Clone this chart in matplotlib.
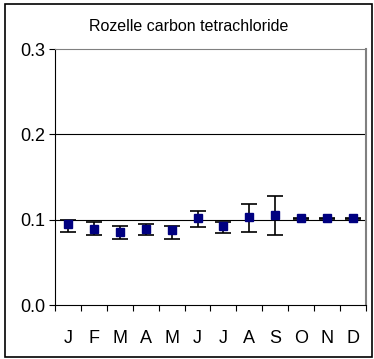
import matplotlib.pyplot as plt
import matplotlib.patches as patches
import numpy as np

plt.rcParams['font.family'] = ['Liberation Sans', 'DejaVu Sans']

months = ['J', 'F', 'M', 'A', 'M', 'J', 'J', 'A', 'S', 'O', 'N', 'D']
means = [0.0947, 0.0896, 0.0850, 0.0896, 0.0877, 0.1016, 0.0923, 0.1035, 0.1058, 0.1016, 0.1016, 0.1016]
lows = [0.0860, 0.0815, 0.0768, 0.0815, 0.0768, 0.0912, 0.0838, 0.0860, 0.0820, 0.1005, 0.1005, 0.1005]
highs = [0.1000, 0.0973, 0.0930, 0.0954, 0.0930, 0.1097, 0.0977, 0.1185, 0.1278, 0.1025, 0.1025, 0.1025]

means = np.array(means)
yerr = np.array([means - np.array(lows), np.array(highs) - means])
x = np.arange(len(months))

fig = plt.figure(figsize=(3.74, 3.59), dpi=100)
ax = fig.add_axes([0.147, 0.1504, 0.8316, 0.7131])

# grid lines
for g in [0.1, 0.2]:
    ax.axhline(g, color='black', lw=0.8, zorder=1)

ax.errorbar(x, means, yerr=yerr, fmt='none', ecolor='black', elinewidth=1.2,
            capsize=5.5, capthick=1.2, zorder=2)
ax.plot(x, means, 's', color='#000080', markersize=5.8, zorder=3)

ax.set_xlim(-0.5, 11.5)
ax.set_ylim(0, 0.3)
ax.set_yticks([0.0, 0.1, 0.2, 0.3])
ax.set_yticklabels(['0.0', '0.1', '0.2', '0.3'], fontsize=13)
ax.set_xticks(np.arange(-0.5, 12, 1))
ax.set_xticklabels([])
ax.set_xticks(x, minor=True)
ax.set_xticklabels(months, minor=True, fontsize=13)
ax.tick_params(axis='x', which='minor', length=0, pad=18)
ax.tick_params(axis='x', which='major', length=4, direction='out', color='black')
ax.tick_params(axis='y', length=4, direction='out', pad=3)

ax.spines['left'].set_color('black')
ax.spines['bottom'].set_color('black')
ax.spines['top'].set_color('#808080')
ax.spines['right'].set_color('#808080')
ax.spines['right'].set_linewidth(1.5)

fig.text(0.505, 0.927, 'Rozelle carbon tetrachloride', ha='center', va='center', fontsize=11.5)

fig.patches.append(patches.Rectangle((5 / 374, 2 / 359), 367 / 374, 353 / 359,
                                     transform=fig.transFigure, fill=False,
                                     edgecolor='black', lw=1.2))

fig.savefig('out.png', dpi=100)
